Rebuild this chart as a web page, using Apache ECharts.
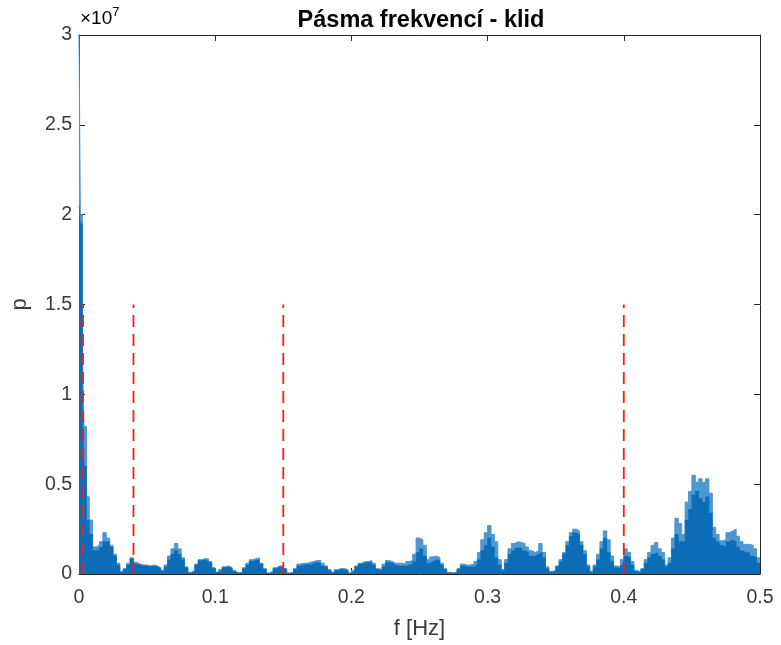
<!DOCTYPE html>
<html>
<head>
<meta charset="utf-8">
<title>Pásma frekvencí - klid</title>
<script src="https://cdn.jsdelivr.net/npm/echarts@6/dist/echarts.min.js"></script>
<style>
  html, body { margin: 0; padding: 0; background: #fff; }
  #chart { width: 781px; height: 645px; }
</style>
</head>
<body>
<div id="chart"></div>
<script>
// Power spectrum of the resting recording (values in units of 1e6)
// Fine bins near 0 Hz, then a regular 0.0025 Hz grid up to 0.5 Hz.
const headEdges = [0, 0.001, 0.0025, 0.00375, 0.0055, 0.0075];
const gridStart = 0.01;
const gridStep = 0.0025;
const freqMax = 0.5;

// upper envelope (lighter fill)
const lightPower = [
  30, 20, 12, 8.2, 4.3, 3.0,
  1.5, 1.6, 1.8, 2.3, 2.0, 1.6, 1.1, 0.6,
  0.15, 0.3, 0.6, 0.9, 0.65, 0.55, 0.5, 0.5,
  0.45, 0.5, 0.45, 0.35, 0.2, 0.5, 1.0, 1.4,
  1.7, 1.4, 0.9, 0.4, 0.1, 0.2, 0.55, 0.8,
  0.85, 0.85, 0.7, 0.35, 0.1, 0.25, 0.4, 0.45,
  0.35, 0.2, 0.05, 0.1, 0.35, 0.6, 0.8, 0.85,
  0.9, 0.6, 0.3, 0.05, 0.15, 0.35, 0.45, 0.45,
  0.3, 0.05, 0.1, 0.3, 0.55, 0.6, 0.6, 0.65,
  0.7, 0.75, 0.75, 0.6, 0.45, 0.25, 0.1, 0.25,
  0.3, 0.3, 0.25, 0.05, 0.2, 0.45, 0.6, 0.7,
  0.7, 0.75, 0.6, 0.3, 0.25, 0.55, 0.75, 0.7,
  0.6, 0.6, 0.6, 0.55, 0.7, 0.75, 1.1, 2.0,
  1.9, 1.6, 0.8, 0.95, 1.0, 0.9, 0.6, 0.3,
  0.1, 0.05, 0.1, 0.3, 0.55, 0.5, 0.5, 0.55,
  0.7, 1.2, 1.9, 2.3, 2.7, 2.2, 1.8, 0.8,
  0.25, 0.8, 1.4, 1.7, 1.8, 1.75, 1.7, 1.5,
  1.3, 1.2, 1.3, 1.7, 1.2, 0.4, 0.15, 0.2,
  0.45, 0.8, 1.2, 1.8, 2.3, 2.5, 2.4, 1.8,
  1.3, 0.5, 0.15, 0.5, 1.1, 1.8, 2.4, 1.9,
  1.0, 0.45, 0.4, 0.8, 1.4, 1.2, 0.7, 0.2,
  0.1, 0.3, 0.8, 1.2, 1.6, 1.75, 1.4, 1.2,
  0.5, 0.9, 2.0, 3.1, 2.8, 2.2, 4.0, 4.6,
  5.5, 5.1, 5.3, 5.1, 5.3, 4.5, 2.6, 2.2,
  1.85, 1.9, 2.3, 2.4, 2.5, 2.1, 1.8, 1.65,
  1.65, 1.6, 1.4, 0.9
];

// main fill (darker)
const darkPower = [
  20.5, 19.5, 9, 6, 3, 2.2,
  1.3, 1.3, 1.5, 1.8, 1.8, 1.5, 1.0, 0.5,
  0.1, 0.25, 0.5, 0.85, 0.55, 0.5, 0.45, 0.45,
  0.4, 0.45, 0.4, 0.3, 0.15, 0.4, 0.8, 1.1,
  1.3, 1.1, 0.8, 0.35, 0.05, 0.15, 0.5, 0.75,
  0.8, 0.7, 0.6, 0.3, 0.1, 0.2, 0.35, 0.4,
  0.3, 0.15, 0.05, 0.05, 0.3, 0.5, 0.7, 0.75,
  0.8, 0.55, 0.25, 0.05, 0.1, 0.3, 0.4, 0.35,
  0.25, 0.05, 0.05, 0.25, 0.45, 0.5, 0.55, 0.5,
  0.6, 0.65, 0.6, 0.45, 0.35, 0.2, 0.08, 0.2,
  0.25, 0.25, 0.2, 0.05, 0.15, 0.4, 0.55, 0.6,
  0.65, 0.65, 0.5, 0.25, 0.2, 0.4, 0.65, 0.6,
  0.5, 0.45, 0.45, 0.45, 0.5, 0.55, 0.7, 1.2,
  1.4, 1.0, 0.6, 0.7, 0.8, 0.75, 0.5, 0.25,
  0.05, 0.05, 0.08, 0.25, 0.45, 0.4, 0.4, 0.4,
  0.5, 0.8, 1.3, 1.6, 2.0, 1.5, 0.9, 0.5,
  0.2, 0.6, 1.1, 1.3, 1.45, 1.45, 1.3, 1.2,
  1.0, 1.0, 1.1, 1.2, 0.9, 0.3, 0.1, 0.15,
  0.4, 0.7, 1.1, 1.6, 2.1, 2.3, 2.2, 1.6,
  1.1, 0.4, 0.1, 0.4, 0.8, 1.4, 2.0, 1.2,
  0.7, 0.35, 0.3, 0.5, 1.0, 0.9, 0.5, 0.15,
  0.05, 0.25, 0.6, 0.9, 1.1, 1.2, 1.0, 0.8,
  0.4, 0.6, 1.4, 2.2, 1.8, 1.8, 3.0, 3.6,
  4.4, 4.6, 4.2, 4.0, 4.3, 3.4, 2.0, 1.8,
  1.6, 1.5, 1.8, 1.9, 1.8, 1.5, 1.3, 1.2,
  1.2, 1.0, 0.9, 0.6
];
const powerUnit = 1e6;

// band limits (ULF / VLF / LF / HF)
const bandLimits = [0.003, 0.04, 0.15, 0.4];
const bandLineHeight = 1.5e7;

const xTicks = [0, 0.1, 0.2, 0.3, 0.4, 0.5];
const yTickLabels = ['0', '0.5', '1', '1.5', '2', '2.5', '3'];

// bin left edges
const binEdges = headEdges.slice();
for (let k = 0; binEdges.length < lightPower.length; k++) {
  binEdges.push(+(gridStart + k * gridStep).toFixed(5));
}

function stepData(values) {
  const d = values.map((v, i) => [binEdges[i], v * powerUnit]);
  d.push([freqMax, values[values.length - 1] * powerUnit]);
  return d;
}

const FONT = "'Liberation Sans', Arial, Helvetica, sans-serif";
const AX = '#262626';
const TXT = '#3a3a3a';

const axisCommon = {
  axisLine: { show: true, onZero: false, lineStyle: { color: AX, width: 1 } },
  axisTick: { show: true, inside: true, length: 6, lineStyle: { color: AX, width: 1 } },
  splitLine: { show: false }
};

const chart = echarts.init(document.getElementById('chart'), null, { renderer: 'canvas' });

const bandSeries = bandLimits.map(f => ({
  type: 'line',
  data: [[f, 0], [f, bandLineHeight]],
  showSymbol: false,
  symbol: 'none',
  silent: true,
  z: 5,
  lineStyle: { color: '#ff1a1a', width: 1.8, type: [12, 7] }
}));

chart.setOption({
  animation: false,
  backgroundColor: '#fff',
  title: {
    text: 'Pásma frekvencí - klid',
    left: 416,
    textAlign: 'center',
    top: 4,
    textStyle: { fontFamily: FONT, fontSize: 23.5, fontWeight: 'bold', color: '#000' }
  },
  grid: { left: 79, right: 21, top: 35, bottom: 71, containLabel: false, outerBoundsMode: 'none' },
  xAxis: [
    Object.assign({}, axisCommon, {
      type: 'value', position: 'bottom', min: 0, max: 0.5, interval: 0.1,
      name: 'f [Hz]', nameLocation: 'middle', nameGap: 44,
      nameTextStyle: { fontFamily: FONT, fontSize: 22, color: TXT, verticalAlign: 'top' },
      axisLabel: {
        fontFamily: FONT, fontSize: 19.5, color: TXT, margin: 14,
        formatter: v => xTicks.includes(+v.toFixed(2)) ? String(+v.toFixed(1)) : ''
      }
    }),
    Object.assign({}, axisCommon, {
      type: 'value', position: 'top', min: 0, max: 0.5, interval: 0.1,
      axisLabel: { show: false }
    })
  ],
  yAxis: [
    Object.assign({}, axisCommon, {
      type: 'value', position: 'left', min: 0, max: 3e7, interval: 5e6,
      name: 'p', nameLocation: 'middle', nameGap: 48, nameRotate: 90,
      nameTextStyle: { fontFamily: FONT, fontSize: 22, color: TXT },
      axisLabel: {
        fontFamily: FONT, fontSize: 19.5, color: TXT, margin: 7,
        formatter: v => yTickLabels[Math.round(v / 5e6)]
      }
    }),
    Object.assign({}, axisCommon, {
      type: 'value', position: 'right', min: 0, max: 3e7, interval: 5e6,
      axisLabel: { show: false }
    })
  ],
  graphic: [{
    type: 'text',
    left: 80,
    top: 6,
    style: {
      text: '{a|×10}{b|7}',
      rich: {
        a: { fontFamily: FONT, fontSize: 19, color: TXT, verticalAlign: 'bottom', lineHeight: 22 },
        b: { fontFamily: FONT, fontSize: 13, color: TXT, verticalAlign: 'top', lineHeight: 22, padding: [0, 0, 10, 0] }
      }
    }
  }],
  series: [
    {
      type: 'line',
      step: 'end',
      data: stepData(lightPower),
      showSymbol: false,
      symbol: 'none',
      silent: true,
      z: 2,
      lineStyle: { color: '#4d98d0', width: 1 },
      areaStyle: { color: '#4d98d0', opacity: 1 }
    },
    {
      type: 'line',
      step: 'end',
      data: stepData(darkPower),
      showSymbol: false,
      symbol: 'none',
      silent: true,
      z: 3,
      lineStyle: { color: '#0b6db7', width: 0.5 },
      areaStyle: { color: '#0b6db7', opacity: 1 }
    }
  ].concat(bandSeries)
});
</script>
</body>
</html>
